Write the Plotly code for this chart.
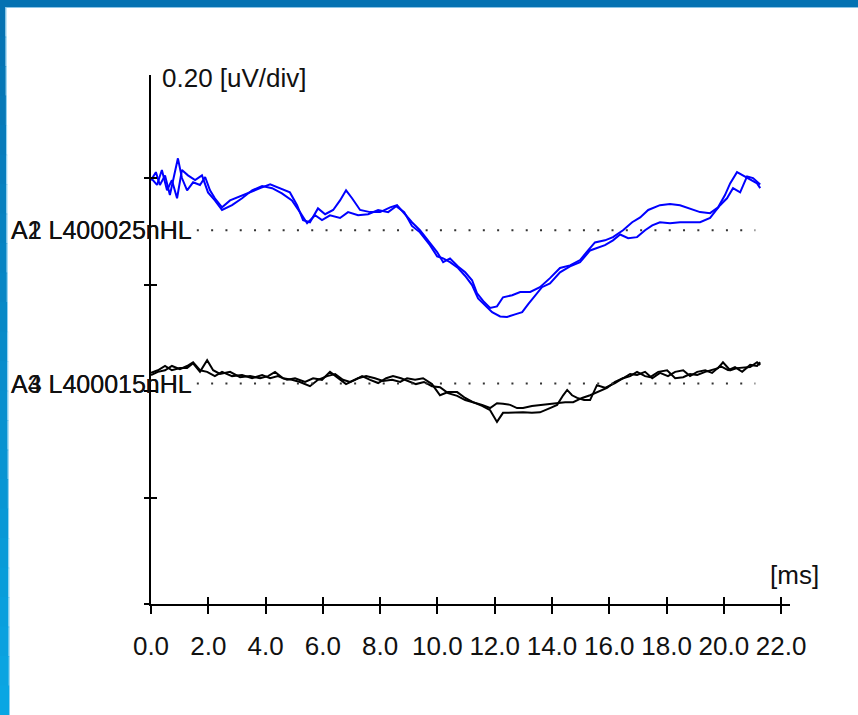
import plotly.graph_objects as go

# ---------------- data (time in ms, amplitude in uV relative to channel baseline) -------------
t_a1 = [0.00, 0.17, 0.31, 0.49, 0.66, 0.84, 0.94, 1.08, 1.26, 1.47, 1.71, 1.89, 2.06, 2.23, 2.48,
        2.76, 3.11, 3.46, 3.81, 4.16, 4.50, 4.85, 5.10, 5.31, 5.55, 5.83, 6.08, 6.36, 6.60, 6.81,
        7.02, 7.30, 7.65, 8.00, 8.35, 8.59, 8.87, 9.11, 9.39, 9.74, 9.99, 10.20, 10.44, 10.72,
        10.97, 11.21, 11.38, 11.63, 11.84, 12.08, 12.29, 12.61, 12.89, 13.24, 13.58, 13.93, 14.28,
        14.63, 14.98, 15.26, 15.50, 15.85, 16.13, 16.48, 16.80, 17.08, 17.36, 17.77, 18.12, 18.47,
        18.82, 19.17, 19.52, 19.80, 20.04, 20.22, 20.46, 20.74, 20.99, 21.16, 21.27]
v_a1 = [0.094, 0.109, 0.085, 0.103, 0.066, 0.113, 0.135, 0.098, 0.075, 0.090, 0.085, 0.100, 0.075,
        0.060, 0.043, 0.056, 0.064, 0.071, 0.079, 0.086, 0.079, 0.071, 0.047, 0.019, 0.015, 0.041,
        0.030, 0.038, 0.056, 0.075, 0.060, 0.038, 0.034, 0.034, 0.043, 0.047, 0.030, 0.015, 0.000,
        -0.024, -0.041, -0.060, -0.053, -0.068, -0.079, -0.094, -0.118, -0.135, -0.146, -0.143,
        -0.126, -0.122, -0.116, -0.116, -0.107, -0.090, -0.071, -0.066, -0.056, -0.038, -0.023,
        -0.019, -0.013, 0.000, 0.015, 0.024, 0.038, 0.047, 0.049, 0.047, 0.041, 0.034, 0.032,
        0.043, 0.066, 0.088, 0.109, 0.101, 0.094, 0.088, 0.079]

t_a2 = [0.00, 0.21, 0.38, 0.56, 0.73, 0.91, 1.08, 1.29, 1.54, 1.78, 1.99, 2.23, 2.48, 2.83, 3.18,
        3.53, 3.88, 4.23, 4.57, 4.92, 5.20, 5.45, 5.73, 5.97, 6.25, 6.60, 6.88, 7.23, 7.58, 7.93,
        8.28, 8.56, 8.84, 9.11, 9.39, 9.74, 9.99, 10.20, 10.44, 10.72, 10.97, 11.21, 11.42, 11.66,
        11.91, 12.19, 12.43, 12.71, 12.96, 13.17, 13.41, 13.65, 13.93, 14.28, 14.63, 14.98, 15.33,
        15.57, 15.85, 16.13, 16.38, 16.66, 16.97, 17.25, 17.50, 17.77, 18.12, 18.47, 18.82, 19.17,
        19.52, 19.87, 20.11, 20.32, 20.57, 20.81, 21.02, 21.27]
v_a2 = [0.098, 0.085, 0.113, 0.075, 0.094, 0.060, 0.113, 0.103, 0.094, 0.103, 0.071, 0.056, 0.038,
        0.047, 0.060, 0.075, 0.083, 0.079, 0.069, 0.056, 0.034, 0.013, 0.028, 0.019, 0.028, 0.023,
        0.034, 0.028, 0.030, 0.038, 0.034, 0.045, 0.034, 0.008, -0.004, -0.028, -0.049, -0.053,
        -0.060, -0.071, -0.086, -0.103, -0.128, -0.141, -0.154, -0.162, -0.163, -0.158, -0.154,
        -0.139, -0.122, -0.107, -0.100, -0.079, -0.068, -0.060, -0.038, -0.034, -0.028, -0.019,
        -0.008, -0.015, -0.013, 0.000, 0.009, 0.015, 0.013, 0.015, 0.015, 0.015, 0.023, 0.047,
        0.060, 0.079, 0.071, 0.101, 0.098, 0.086]

t_a3 = [0.00, 0.24, 0.49, 0.73, 1.01, 1.26, 1.47, 1.71, 1.96, 2.17, 2.41, 2.76, 3.11, 3.46, 3.81,
        4.09, 4.33, 4.61, 4.92, 5.20, 5.55, 5.83, 6.15, 6.43, 6.70, 6.95, 7.23, 7.51, 7.82, 8.10,
        8.42, 8.70, 8.94, 9.22, 9.50, 9.81, 10.09, 10.37, 10.69, 10.97, 11.24, 11.56, 11.84, 12.08,
        12.29, 12.61, 12.99, 13.30, 13.58, 13.93, 14.18, 14.39, 14.53, 14.70, 14.88, 15.12, 15.33,
        15.57, 15.85, 16.20, 16.48, 16.73, 16.97, 17.25, 17.43, 17.71, 18.02, 18.30, 18.58, 18.82,
        19.07, 19.35, 19.52, 19.80, 19.97, 20.22, 20.46, 20.74, 20.92, 21.16, 21.27]
v_a3 = [0.020, 0.025, 0.033, 0.025, 0.029, 0.029, 0.038, 0.022, 0.044, 0.025, 0.018, 0.022, 0.012,
        0.014, 0.010, 0.014, 0.022, 0.010, 0.007, 0.003, -0.005, 0.007, 0.014, 0.018, 0.007, 0.003,
        0.010, 0.014, 0.010, 0.005, 0.007, 0.003, 0.010, 0.007, 0.010, -0.001, -0.022, -0.016,
        -0.016, -0.027, -0.035, -0.042, -0.050, -0.072, -0.055, -0.054, -0.054, -0.055, -0.054,
        -0.046, -0.040, -0.022, -0.012, -0.022, -0.027, -0.031, -0.031, -0.003, -0.008, 0.001,
        0.010, 0.014, 0.022, 0.014, 0.012, 0.022, 0.025, 0.010, 0.012, 0.018, 0.016, 0.022, 0.025,
        0.029, 0.040, 0.025, 0.029, 0.031, 0.031, 0.040, 0.035]

t_a4 = [0.00, 0.24, 0.49, 0.73, 1.01, 1.26, 1.47, 1.71, 1.96, 2.23, 2.48, 2.83, 3.18, 3.53, 3.88,
        4.16, 4.43, 4.75, 5.03, 5.38, 5.66, 5.97, 6.25, 6.53, 6.81, 7.12, 7.37, 7.65, 7.93, 8.21,
        8.45, 8.73, 8.97, 9.25, 9.53, 9.81, 10.09, 10.37, 10.69, 10.97, 11.24, 11.56, 11.84, 12.08,
        12.29, 12.54, 12.78, 12.99, 13.30, 13.58, 13.86, 14.18, 14.46, 14.74, 15.05, 15.33, 15.61,
        15.92, 16.20, 16.48, 16.73, 16.97, 17.25, 17.50, 17.77, 18.05, 18.30, 18.58, 18.82, 19.07,
        19.35, 19.59, 19.87, 20.15, 20.39, 20.64, 20.92, 21.16, 21.27]
v_a4 = [0.016, 0.022, 0.025, 0.033, 0.027, 0.033, 0.040, 0.025, 0.022, 0.014, 0.022, 0.014, 0.016,
        0.010, 0.016, 0.010, 0.014, 0.007, 0.010, 0.003, 0.010, 0.007, 0.022, 0.010, -0.001, 0.007,
        0.014, 0.007, 0.001, 0.010, 0.014, 0.010, 0.005, -0.001, 0.003, -0.005, -0.007, -0.018,
        -0.023, -0.031, -0.035, -0.040, -0.046, -0.037, -0.038, -0.040, -0.046, -0.046, -0.042,
        -0.040, -0.038, -0.037, -0.035, -0.035, -0.027, -0.022, -0.016, -0.008, 0.003, 0.010,
        0.018, 0.016, 0.022, 0.010, 0.020, 0.014, 0.022, 0.025, 0.014, 0.022, 0.025, 0.020, 0.033,
        0.025, 0.031, 0.022, 0.035, 0.033, 0.040]

baseline_25 = 0.702   # uV position of the 25 nHL pair
baseline_15 = 0.414   # uV position of the 15 nHL pair
baseline_span = [1.6, 21.1]  # ms extent of dotted baselines

label_25 = ["A1 L400025nHL", "A2 L400025nHL"]
label_15 = ["A3 L400015nHL", "A4 L400015nHL"]
x_ticks = [0, 2, 4, 6, 8, 10, 12, 14, 16, 18, 20, 22]
y_ticks = [0.0, 0.2, 0.4, 0.6, 0.8]

# ---------------- figure -------------
FONT = "Liberation Sans, Arial, sans-serif"
W, H = 858, 715
L, R, T, B = 151, 68, 75, 111
pw, ph = W - L - R, H - T - B
XR = [0, 22.31]
YR = [0, 0.9935]

def px2paper_x(px):
    return (px - L) / pw

def py2paper_y(py):
    return (H - B - py) / ph

fig = go.Figure()

# dotted baselines
for base in (baseline_25, baseline_15):
    fig.add_trace(go.Scatter(x=baseline_span, y=[base, base], mode="lines",
                             line=dict(color="#333333", width=2, dash="2px,12.3px"),
                             xaxis="x2", yaxis="y2", hoverinfo="skip", showlegend=False))

for t, v in ((t_a1, v_a1), (t_a2, v_a2)):
    fig.add_trace(go.Scatter(x=t, y=[baseline_25 + a for a in v], mode="lines",
                             line=dict(color="#0000ff", width=2), showlegend=False))
for t, v in ((t_a3, v_a3), (t_a4, v_a4)):
    fig.add_trace(go.Scatter(x=t, y=[baseline_15 + a for a in v], mode="lines",
                             line=dict(color="#000000", width=2), showlegend=False))

axis_common = dict(showgrid=False, zeroline=False, tickcolor="#000", tickwidth=2)
fig.update_layout(
    width=W, height=H, margin=dict(l=L, r=R, t=T, b=B, pad=0),
    paper_bgcolor="white", plot_bgcolor="white", showlegend=False,
    xaxis=dict(range=XR, showline=True, linecolor="#000", linewidth=2, ticks="outside", ticklen=8,
               tickvals=x_ticks, tickformat=".1f", ticklabelstandoff=10, tickangle=0,
               tickfont=dict(family=FONT, size=26, color="#111"), **axis_common),
    xaxis2=dict(range=XR, overlaying="x", anchor="y2", side="bottom", ticks="inside", ticklen=7,
                tickvals=x_ticks, showticklabels=False, showline=False, **axis_common),
    yaxis=dict(range=YR, showline=True, linecolor="#000", linewidth=2, ticks="outside", ticklen=5,
               tickvals=y_ticks, showticklabels=False, **axis_common),
    yaxis2=dict(range=YR, overlaying="y", anchor="x2", side="left", ticks="inside", ticklen=6,
                tickvals=y_ticks, showticklabels=False, showline=False, **axis_common),
)

# channel labels (overprinted pairs as in the original)
for labels, base in ((label_25, baseline_25), (label_15, baseline_15)):
    for lab in labels:
        fig.add_annotation(text=lab, xref="paper", yref="y", x=px2paper_x(9), y=base,
                           xanchor="left", yanchor="middle", showarrow=False,
                           font=dict(family=FONT, size=25, color="#111"))

fig.add_annotation(text="0.20 [uV/div]", xref="paper", yref="paper", x=px2paper_x(160),
                   y=py2paper_y(78), xanchor="left", yanchor="middle", showarrow=False,
                   font=dict(family=FONT, size=26, color="#111"))
fig.add_annotation(text="[ms]", xref="paper", yref="paper", x=px2paper_x(768),
                   y=py2paper_y(575), xanchor="left", yanchor="middle", showarrow=False,
                   font=dict(family=FONT, size=26, color="#111"))

# window frame: dark blue top bar and left bar fading to cyan
shapes = []
shapes.append(dict(type="rect", xref="paper", yref="paper", x0=px2paper_x(-2), x1=px2paper_x(W + 2),
                   y0=py2paper_y(7), y1=py2paper_y(-2), fillcolor="#0572b2", line=dict(width=0),
                   layer="above"))
shapes.append(dict(type="rect", xref="paper", yref="paper", x0=px2paper_x(6), x1=px2paper_x(W + 2),
                   y0=py2paper_y(8), y1=py2paper_y(7), fillcolor="#8cc4e6", line=dict(width=0),
                   layer="above"))
n = 24
c0 = (5, 114, 178)
c1 = (10, 166, 227)
for i in range(n):
    f = i / (n - 1)
    col = "rgb(%d,%d,%d)" % tuple(round(a + (b - a) * f) for a, b in zip(c0, c1))
    y_top = 7 + (H - 7) * i / n
    y_bot = 7 + (H - 7) * (i + 1) / n
    wdt = 5.5 + 3.5 * f
    shapes.append(dict(type="rect", xref="paper", yref="paper", x0=px2paper_x(-2), x1=px2paper_x(wdt),
                       y0=py2paper_y(y_bot + 1), y1=py2paper_y(y_top), fillcolor=col,
                       line=dict(width=0), layer="above"))
    shapes.append(dict(type="rect", xref="paper", yref="paper", x0=px2paper_x(wdt), x1=px2paper_x(wdt + 1),
                       y0=py2paper_y(y_bot + 1), y1=py2paper_y(y_top), fillcolor="#8fd0f0",
                       line=dict(width=0), layer="above"))
fig.update_layout(shapes=shapes)

fig.write_html("out.html", config={"displayModeBar": False})
